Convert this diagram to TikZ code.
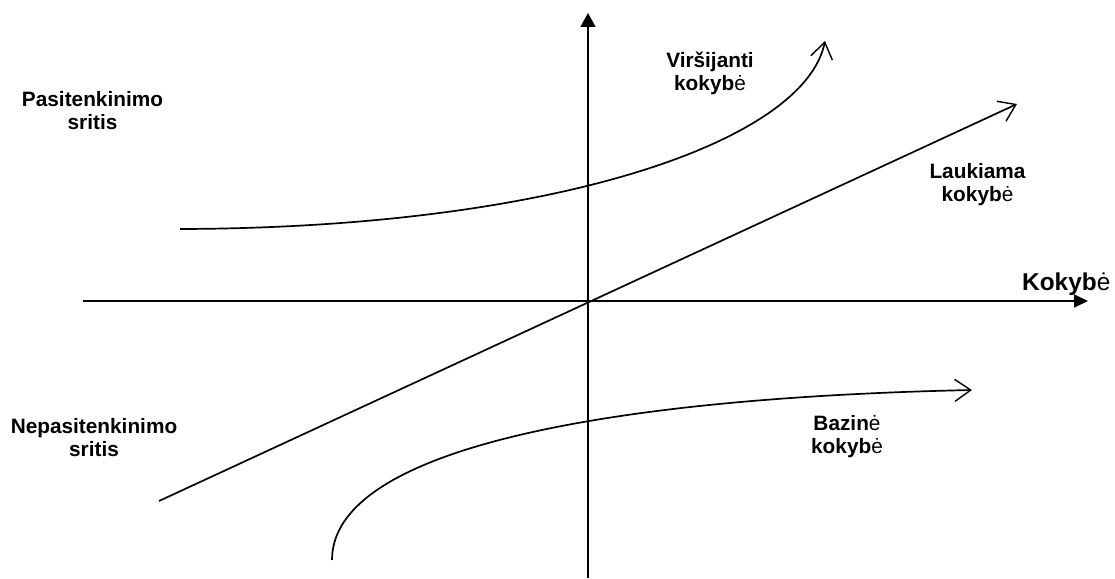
\documentclass[tikz,border=0pt]{standalone}
\usepackage{fontspec}
\setmainfont{Liberation Sans}
\usetikzlibrary{arrows.meta}
\newcommand{\lte}{{\mdseries ė}}
\tikzset{
  axisline/.style={line width=1.7pt},
  curveline/.style={line width=1.7pt, -{Straight Barb[length=16pt,width=22pt,line width=1.4pt]}},
  lbl/.style={font=\fontsize{20.8}{23}\selectfont\bfseries, align=center, inner sep=0pt, anchor=center},
  axlbl/.style={font=\fontsize{24.4}{28}\selectfont\bfseries, inner sep=0pt, anchor=base west}
}
\begin{document}
\begin{tikzpicture}[x=1pt,y=-1pt]
\useasboundingbox (0,0) rectangle (1115,578);
% axes
\coordinate (O) at (588,301);
\coordinate (ytop) at (588,13);
\coordinate (ybot) at (588,578);
\coordinate (xl) at (83,301);
\coordinate (xr) at (1088,301);
\draw[axisline,-{Triangle[length=14pt,width=15pt]}] (ybot) -- (ytop);
\draw[axisline,-{Triangle[length=14pt,width=13pt]}] (xl) -- (xr);
% straight line (expected quality)
\coordinate (ls) at (159,501);
\coordinate (le) at (1017,104);
\draw[curveline] (ls) -- (le);
% upper curve (exciting quality)
\coordinate (us) at (180,229);
\coordinate (ue) at (825,41);
\draw[curveline] (us) .. controls (560,228) and (805,140) .. (ue);
% lower curve (basic quality)
\coordinate (bs) at (332,560);
\coordinate (be) at (972,390);
\draw[curveline] (bs) .. controls (332,450) and (600,398) .. (be);
% labels
\node[lbl] (sat) at (92.5,111) {Pasitenkinimo\\sritis};
\node[lbl] (dissat) at (94,437.5) {Nepasitenkinimo\\sritis};
\node[lbl] (exc) at (710,73) {Viršijanti\\kokyb\lte};
\node[lbl] (exp) at (977.5,184.5) {Laukiama\\kokyb\lte};
\node[lbl] (bas) at (847,436.5) {Bazin\lte\\kokyb\lte};
\node[axlbl] (q) at (1022,290) {Kokyb\lte};
\end{tikzpicture}
\end{document}
